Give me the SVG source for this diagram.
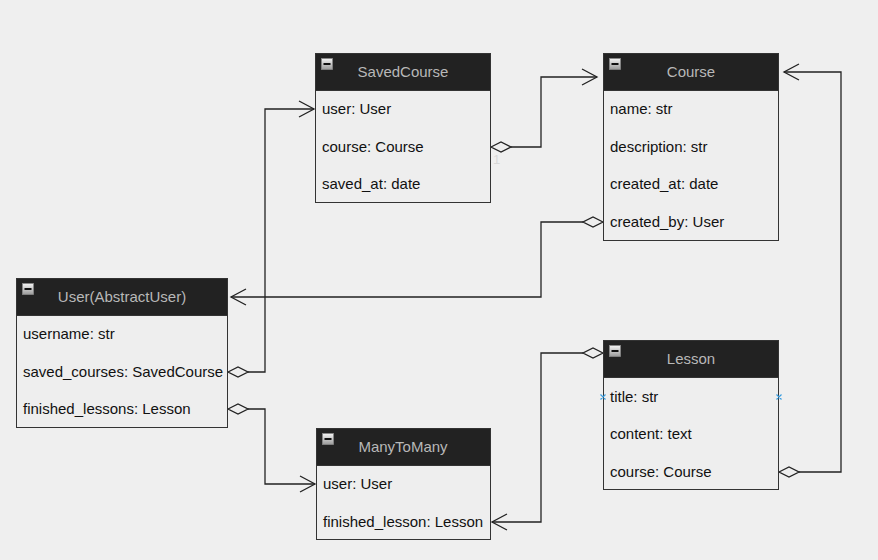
<svg xmlns="http://www.w3.org/2000/svg" width="878" height="560" viewBox="0 0 878 560">
<defs>
<style>
.box{fill:#eeeeee;stroke:#333;stroke-width:1}
.hdr{fill:#222222;stroke:#333;stroke-width:1}
.title{font-family:"Liberation Sans",Arial,sans-serif;font-size:15px;fill:#b8b8b8;text-anchor:middle}
.attr{font-family:"Liberation Sans",Arial,sans-serif;font-size:15px;fill:#111}
.one{font-family:"Liberation Sans",Arial,sans-serif;font-size:13px;fill:#d8d8d8}
.edge{fill:none;stroke:#222;stroke-width:1.3}
.dia{fill:#eeeeee;stroke:#222;stroke-width:1.3}
.mark{stroke:#3a9ee0;stroke-width:1.2}
</style>
<linearGradient id="ig" x1="0" y1="0" x2="0" y2="1">
<stop offset="0" stop-color="#f4f4f4"/>
<stop offset="1" stop-color="#9a9a9a"/>
</linearGradient>
<g id="icon">
<rect x="0" y="0" width="11" height="11" fill="url(#ig)" stroke="#888" stroke-width="0.8"/>
<rect x="2" y="4.5" width="7" height="2" fill="#111"/>
</g>
</defs>
<rect width="878" height="560" fill="#efefef"/>

<g id="connectors">
<!-- User.saved_courses -> SavedCourse -->
<polyline class="edge" points="248,372 265,372 265,109 314,109"/>
<polygon class="dia" points="228,372 238,367 248,372 238,377"/>
<polyline class="edge" points="299,101 314,109 299,117"/>
<!-- User.finished_lessons -> ManyToMany -->
<polyline class="edge" points="248,409 265,409 265,484 315,484"/>
<polygon class="dia" points="228,409 238,404 248,409 238,414"/>
<polyline class="edge" points="300,476 315,484 300,492"/>
<!-- SavedCourse.course -> Course -->
<polyline class="edge" points="511,147 541,147 541,77 597,77"/>
<polygon class="dia" points="491,147 501,142 511,147 501,152"/>
<polyline class="edge" points="582,69 597,77 582,85"/>
<!-- Course.created_by -> User -->
<polyline class="edge" points="583,222 541,222 541,297 231,297"/>
<polygon class="dia" points="603,222 593,217 583,222 593,227"/>
<polyline class="edge" points="246,289 231,297 246,305"/>
<!-- Lesson.course -> Course -->
<polyline class="edge" points="799,472 841,472 841,72 784,72"/>
<polygon class="dia" points="779,472 789,467 799,472 789,477"/>
<polyline class="edge" points="799,64 784,72 799,80"/>
<!-- Lesson -> ManyToMany.finished_lesson -->
<polyline class="edge" points="583,353 541,353 541,522 492,522"/>
<polygon class="dia" points="603,353 593,348 583,353 593,358"/>
<polyline class="edge" points="507,514 492,522 507,530"/>
<text class="one" x="493" y="164">1</text>
<text class="one" x="608" y="211">1</text>
</g>

<g id="SavedCourse">
<rect class="box" x="315.5" y="53.5" width="175" height="149"/>
<rect class="hdr" x="315.5" y="53.5" width="175" height="37"/>
<use href="#icon" x="321.5" y="58.5"/>
<text class="title" x="403" y="77">SavedCourse</text>
<text class="attr" x="322" y="114">user: User</text>
<text class="attr" x="322" y="152">course: Course</text>
<text class="attr" x="322" y="189">saved_at: date</text>
</g>

<g id="Course">
<rect class="box" x="603.5" y="53.5" width="175" height="187"/>
<rect class="hdr" x="603.5" y="53.5" width="175" height="37"/>
<use href="#icon" x="609.5" y="58.5"/>
<text class="title" x="691" y="77">Course</text>
<text class="attr" x="610" y="114">name: str</text>
<text class="attr" x="610" y="152">description: str</text>
<text class="attr" x="610" y="189">created_at: date</text>
<text class="attr" x="610" y="227">created_by: User</text>
</g>

<g id="User">
<rect class="box" x="16.5" y="278.5" width="211" height="149"/>
<rect class="hdr" x="16.5" y="278.5" width="211" height="37"/>
<use href="#icon" x="22.5" y="283.5"/>
<text class="title" x="122" y="302">User(AbstractUser)</text>
<text class="attr" x="23" y="339">username: str</text>
<text class="attr" x="23" y="377">saved_courses: SavedCourse</text>
<text class="attr" x="23" y="414">finished_lessons: Lesson</text>
</g>

<g id="Lesson">
<rect class="box" x="603.5" y="340.5" width="175" height="149"/>
<rect class="hdr" x="603.5" y="340.5" width="175" height="37"/>
<use href="#icon" x="609.5" y="345.5"/>
<text class="title" x="691" y="364">Lesson</text>
<text class="attr" x="610" y="402">title: str</text>
<text class="attr" x="610" y="439">content: text</text>
<text class="attr" x="610" y="477">course: Course</text>
<path class="mark" d="M600.5,394.5 l5,5 M605.5,394.5 l-5,5 M776.5,394.5 l5,5 M781.5,394.5 l-5,5"/>
</g>

<g id="ManyToMany">
<rect class="box" x="316.5" y="428.5" width="174" height="111"/>
<rect class="hdr" x="316.5" y="428.5" width="174" height="37"/>
<use href="#icon" x="322.5" y="433.5"/>
<text class="title" x="403" y="452">ManyToMany</text>
<text class="attr" x="323" y="489">user: User</text>
<text class="attr" x="323" y="527">finished_lesson: Lesson</text>
</g>
</svg>
